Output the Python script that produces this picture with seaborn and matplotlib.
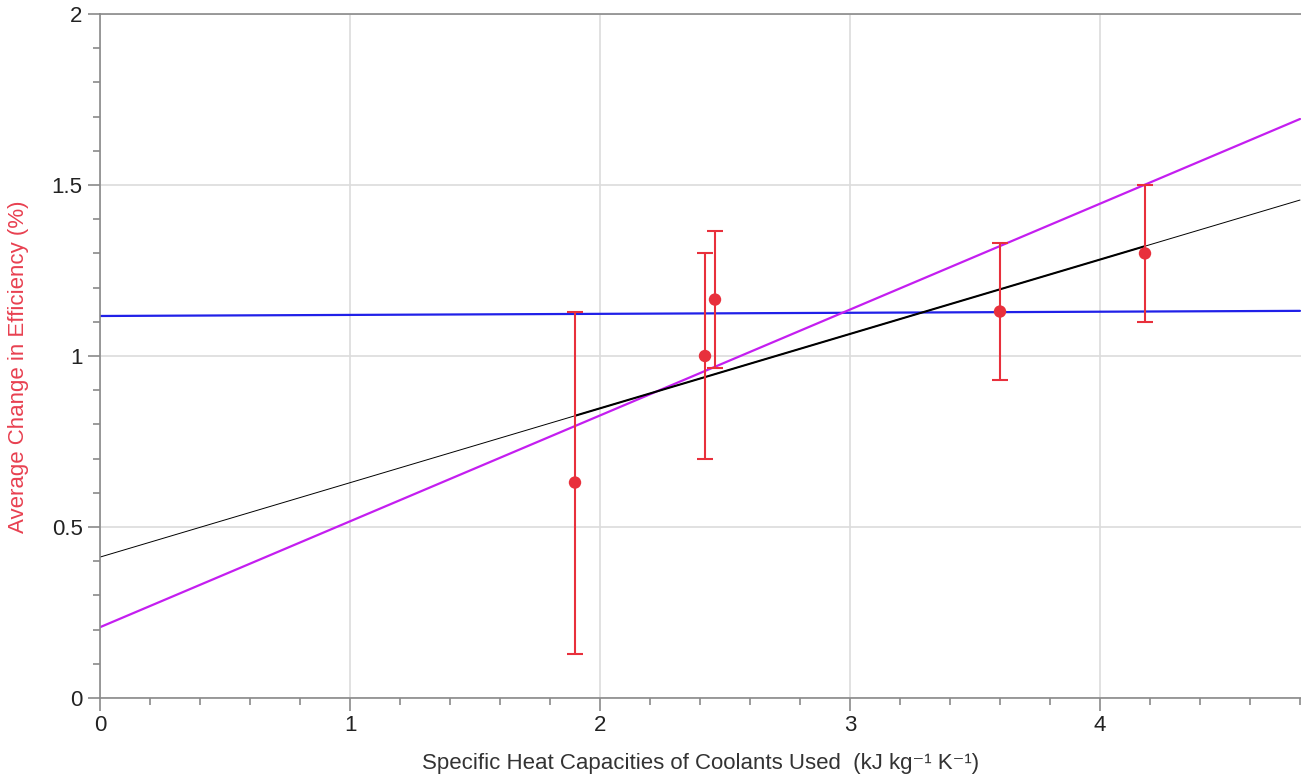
import numpy as np
import pandas as pd
import matplotlib
matplotlib.use("Agg")
import matplotlib.pyplot as plt
from matplotlib.ticker import MultipleLocator
import seaborn as sns

# data
heat_capacity = [1.90, 2.42, 2.46, 3.60, 4.18]
eff_change = [0.63, 1.00, 1.165, 1.13, 1.30]
eff_err = [0.50, 0.30, 0.20, 0.20, 0.20]

# fitted lines (end points)
line_x = [0.0, 4.8]
best_fit_y = [0.412, 1.456]
max_fit_y = [0.207, 1.693]
flat_fit_y = [1.117, 1.132]
fit_range = [1.90, 4.18]

df = pd.DataFrame({"x": heat_capacity, "y": eff_change, "err": eff_err})

sns.set_style("white")
plt.rcParams["font.family"] = ["Liberation Sans", "DejaVu Sans"]

fig = plt.figure(figsize=(13.01, 7.74), dpi=100)
ax = fig.add_axes([100 / 1301, 1 - 698 / 774, 1 - 100 / 1301, (698 - 14) / 774])

grey = "#8a8a8a"
ax.grid(True, which="major", color="#dcdcdc", lw=1.2)
ax.set_axisbelow(True)

# lines
sns.lineplot(x=line_x, y=flat_fit_y, color="#2020e8", lw=1.6, ax=ax)
sns.lineplot(x=line_x, y=max_fit_y, color="#c41ef0", lw=1.6, ax=ax)
sns.lineplot(x=line_x, y=best_fit_y, color="black", lw=0.7, ax=ax)
slope = (best_fit_y[1] - best_fit_y[0]) / (line_x[1] - line_x[0])
seg_y = [best_fit_y[0] + slope * v for v in fit_range]
sns.lineplot(x=fit_range, y=seg_y, color="black", lw=1.5, ax=ax)

# data points with error bars
ax.errorbar(df["x"], df["y"], yerr=df["err"], fmt="none", ecolor="#e8303c",
            elinewidth=1.5, capsize=6, capthick=1.5, zorder=4)
sns.scatterplot(data=df, x="x", y="y", color="#e8303c", s=80, edgecolor="none",
                zorder=5, ax=ax)

ax.set_xlim(0, 4.804)
ax.set_ylim(0, 2)
ax.xaxis.set_major_locator(MultipleLocator(1))
ax.xaxis.set_minor_locator(MultipleLocator(0.2))
ax.yaxis.set_major_locator(MultipleLocator(0.5))
ax.yaxis.set_minor_locator(MultipleLocator(0.1))
ax.set_yticks([0, 0.5, 1, 1.5, 2])
ax.set_yticklabels(["0", "0.5", "1", "1.5", "2"])

ax.tick_params(axis="both", which="major", direction="out", length=9, width=1.2,
               color=grey, labelsize=16, labelcolor="#222222")
ax.tick_params(axis="both", which="minor", direction="out", length=5, width=1.2,
               color=grey)
ax.tick_params(axis="x", which="both", bottom=True)
ax.tick_params(axis="y", which="both", left=True)

for s in ["left", "bottom", "top"]:
    ax.spines[s].set_color(grey)
    ax.spines[s].set_linewidth(1.2)
ax.spines["right"].set_visible(False)

ax.set_xlabel("Specific Heat Capacities of Coolants Used  (kJ kg\u207b\u00b9 K\u207b\u00b9)",
              fontsize=16, color="#333333", labelpad=12)
ax.set_ylabel("Average Change in Efficiency (%)", fontsize=16, color="#e84050")
ax.yaxis.set_label_coords(-0.059, 0.484)

fig.savefig("out.png", dpi=100)
